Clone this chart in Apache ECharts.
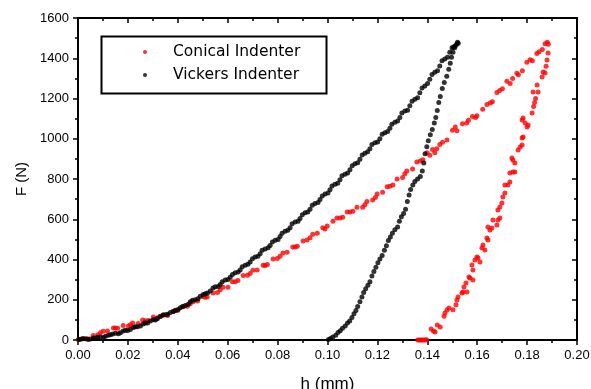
<!DOCTYPE html>
<html>
<head>
<meta charset="utf-8">
<script src="https://cdn.jsdelivr.net/npm/echarts@6/dist/echarts.min.js"></script>
<style>
  html, body { margin: 0; padding: 0; background: #fff; }
  #chart { width: 591px; height: 389px; }
</style>
</head>
<body>
<div id="chart"></div>
<script>
// Indentation load-displacement records: [h (mm), F (N)]
const seriesNames = ['Conical Indenter', 'Vickers Indenter'];
const xTicks = [0, 0.20, 0.02];   // min, max, step
const yTicks = [0, 1600, 200];

const conicalLoading = [
  [0.0002,3],[0.0021,8],[0.0038,6],[0.0061,22],[0.0079,26],[0.0101,44],[0.0118,45],[0.0142,60],
  [0.0159,58],[0.0181,72],[0.0202,70],[0.0219,84],[0.0241,82],[0.0259,99],[0.0281,97],[0.0302,114],
  [0.0318,110],[0.0342,124],[0.0359,122],[0.0381,142],[0.0399,146],[0.0422,165],[0.0438,168],[0.0461,190],
  [0.0479,194],[0.0502,216],[0.0518,214],[0.0541,234],[0.0559,236],[0.0581,262],[0.0601,262],[0.0619,290],
  [0.0641,296],[0.0662,320],[0.0679,322],[0.0701,346],[0.0718,348],[0.0742,372],[0.0759,375],[0.0782,402],
  [0.0799,405],[0.0821,432],[0.0838,436],[0.0861,462],[0.0879,466],[0.0902,492],[0.0918,497],[0.0941,525],
  [0.0959,530],[0.0981,558],[0.0999,566],[0.1022,590],[0.1038,606],[0.1061,610],[0.1079,636],[0.1102,640],
  [0.1118,660],[0.1141,660],[0.1158,688],[0.1181,696],[0.1199,726],[0.1221,734],[0.1239,762],[0.1262,770],
  [0.1279,800],[0.1301,808],[0.1318,840],[0.1341,850],[0.1358,884],[0.1382,896],[0.1399,930],[0.1421,946],
  [0.1438,950],[0.1461,982],[0.1479,994],[0.1501,1042],[0.1519,1040],[0.1541,1074],[0.1558,1078],[0.1581,1110],
  [0.1599,1114],[0.1622,1146],[0.1639,1170],[0.1661,1184],[0.1679,1230],[0.1701,1248],[0.1719,1286],[0.1742,1300],
  [0.1759,1326],[0.1781,1338],[0.1799,1380],[0.1821,1388],[0.1839,1424],[0.1861,1444],[0.1872,1472],[0.1881,1480],
  [0.1512,1058],[0.1565,1092],[0.1593,1106],[0.1652,1178],[0.1690,1240],[0.1732,1274],[0.1765,1318],[0.1812,1392],
  [0.1848,1432],[0.1885,1470],[0.1410,918],[0.1450,972],[0.1430,930],[0.1372,890],[0.1310,826],[0.1250,764],
  [0.1192,708],[0.1150,672],[0.1090,636],[0.1050,606],[0.0990,552],[0.0930,508],[0.0870,462],[0.0810,416],
  [0.0750,370],[0.0690,330],[0.0630,290],[0.0570,250],[0.0510,212],[0.0450,180],[0.0390,148],[0.0330,118],
  [0.0270,96],[0.0210,76],[0.0150,60],[0.0090,36]
];

const conicalUnloading = [
  [0.1362,0],[0.1368,0],[0.1374,0],[0.1380,0],[0.1386,0],[0.1392,0],[0.1397,1],
  [0.1415,55],[0.1425,45],[0.1431,40],[0.1440,75],[0.1452,65],[0.1467,118],[0.1471,134],[0.1479,149],
  [0.1487,159],[0.1503,150],[0.1515,175],[0.1519,199],[0.1523,214],[0.1539,233],[0.1543,238],[0.1559,238],
  [0.1547,263],[0.1555,283],[0.1567,313],[0.1571,308],[0.1583,298],[0.1579,373],[0.1583,348],[0.1591,398],
  [0.1599,412],[0.1603,407],[0.1611,388],[0.1619,457],[0.1623,472],[0.1631,447],[0.1639,507],[0.1643,497],
  [0.1643,561],[0.1651,547],[0.1659,557],[0.1663,596],[0.1679,571],[0.1683,596],[0.1691,606],[0.1683,646],
  [0.1691,661],[0.1699,681],[0.1703,711],[0.1711,730],[0.1711,770],[0.1723,770],[0.1731,785],[0.1731,830],
  [0.1743,835],[0.1751,835],[0.1739,904],[0.1743,894],[0.1751,880],[0.1764,944],[0.1772,959],[0.1780,969],
  [0.1780,1004],[0.1784,1009],[0.1800,1058],[0.1792,1078],[0.1804,1068],[0.1780,1093],[0.1784,1103],[0.1820,1128],
  [0.1826,1160],[0.1830,1180],[0.1834,1200],[0.1824,1232],[0.1844,1232],[0.1840,1267],[0.1860,1307],[0.1864,1332],
  [0.1872,1327],[0.1876,1360],[0.1880,1391],[0.1884,1426]
];

const vickersLoading = [
  [0.0003,2],[0.0018,6],[0.0041,3],[0.0062,10],[0.0079,14],[0.0102,12],[0.0121,24],[0.0139,30],
  [0.0162,31],[0.0181,45],[0.0199,47],[0.0222,62],[0.0238,66],[0.0261,80],[0.0279,84],[0.0302,101],
  [0.0318,106],[0.0341,124],[0.0359,128],[0.0382,142],[0.0401,151],[0.0419,166],[0.0442,178],[0.0459,197],
  [0.0481,205],[0.0502,226],[0.0519,234],[0.0541,258],[0.0562,266],[0.0578,290],[0.0601,301],[0.0619,326],
  [0.0642,338],[0.0658,364],[0.0681,376],[0.0699,404],[0.0721,416],[0.0738,446],[0.0762,458],[0.0779,487],
  [0.0802,500],[0.0818,531],[0.0841,545],[0.0858,578],[0.0882,590],[0.0899,622],[0.0921,636],[0.0939,669],
  [0.0962,683],[0.0979,716],[0.1002,730],[0.1018,765],[0.1041,779],[0.1058,816],[0.1081,830],[0.1099,866],
  [0.1121,881],[0.1139,919],[0.1161,935],[0.1178,971],[0.1201,984],[0.1219,1022],[0.1241,1036],[0.1258,1072],
  [0.1281,1088],[0.1298,1128],[0.1321,1142],[0.1339,1186],[0.1361,1204],[0.1379,1252],[0.1401,1274],[0.1419,1319],
  [0.1441,1338],[0.1459,1388],[0.1481,1405],[0.1499,1452],[0.1512,1462],[0.1521,1480],[0.1518,1470],[0.1524,1474],
  [0.0010,4],[0.0030,6],[0.0050,5],[0.0070,9],[0.0090,15],[0.0110,19],[0.0130,26],[0.0150,34],
  [0.0170,36],[0.0190,48],[0.0210,52],[0.0230,66],[0.0250,70],[0.0270,84],[0.0290,95],[0.0310,100],
  [0.0330,117],[0.0350,126],[0.0370,137],[0.0390,146],[0.0410,160],[0.0430,172],[0.0450,190],[0.0470,200],
  [0.0490,218],[0.0510,230],[0.0530,244],[0.0550,264],[0.0570,276],[0.0590,298],[0.0610,312],[0.0630,334],
  [0.0650,348],[0.0670,372],[0.0690,388],[0.0710,412],[0.0730,428],[0.0750,452],[0.0770,470],[0.0790,496],
  [0.0810,514],[0.0830,540],[0.0850,558],[0.0870,586],[0.0890,604],[0.0910,632],[0.0930,650],[0.0950,678],
  [0.0970,698],[0.0990,726],[0.1010,746],[0.1030,774],[0.1050,796],[0.1070,824],[0.1090,846],[0.1110,876],
  [0.1130,898],[0.1150,928],[0.1170,950],[0.1190,980],[0.1210,1000],[0.1230,1030],[0.1250,1052],[0.1270,1082],
  [0.1290,1106],[0.1310,1138],[0.1330,1164],[0.1350,1196],[0.1370,1228],[0.1390,1262],[0.1410,1296],[0.1430,1330],
  [0.1450,1362],[0.1470,1396],[0.1490,1430],[0.1505,1456]
];

const vickersUnloading = [
  [0.1004,2],[0.1012,8],[0.1021,15],[0.1033,24],[0.1042,37],[0.1051,46],[0.1060,58],[0.1071,70],
  [0.1080,84],[0.1089,95],[0.1098,112],[0.1106,130],[0.1114,146],[0.1121,166],[0.1130,190],[0.1138,214],
  [0.1145,236],[0.1153,255],[0.1162,272],[0.1170,290],[0.1178,318],[0.1186,340],[0.1194,362],[0.1202,384],
  [0.1210,402],[0.1219,420],[0.1228,446],[0.1236,468],[0.1244,494],[0.1252,512],[0.1260,530],[0.1270,548],
  [0.1281,562],[0.1288,590],[0.1296,612],[0.1305,628],[0.1313,650],[0.1320,688],[0.1327,720],[0.1333,748],
  [0.1342,770],[0.1350,788],[0.1361,800],[0.1372,812],[0.1380,840],[0.1386,880],[0.1391,925],[0.1398,960],
  [0.1404,990],[0.1412,1020],[0.1420,1046],[0.1428,1078],[0.1434,1106],[0.1440,1140],[0.1446,1180],[0.1452,1210],
  [0.1460,1250],[0.1468,1280],[0.1478,1310],[0.1486,1345],[0.1492,1375],[0.1497,1405],[0.1503,1430],[0.1510,1452]
];

const FONT = '"Liberation Sans", Arial, sans-serif';
const LEGEND_FONT = '"DejaVu Sans", "Liberation Sans", sans-serif';
const chart = echarts.init(document.getElementById('chart'), null, { renderer: 'canvas' });

function frameAxis(pos, isX) {
  return {
    type: 'value', position: pos,
    min: isX ? xTicks[0] : yTicks[0], max: isX ? xTicks[1] : yTicks[1],
    interval: isX ? xTicks[2] : yTicks[2],
    axisLine: { show: true, onZero: false, lineStyle: { color: '#000', width: 2 } },
    axisTick: { show: true, inside: true, length: 5, lineStyle: { color: '#000', width: 1.5 } },
    minorTick: { show: true, splitNumber: 2, length: 3, lineStyle: { color: '#000', width: 1.5 } },
    axisLabel: { show: false }, splitLine: { show: false }
  };
}

const option = {
  animation: false,
  backgroundColor: '#fff',
  grid: { left: 78, right: 14, top: 18, bottom: 49, containLabel: false, outerBoundsMode: 'none' },
  xAxis: [
    {
      type: 'value', position: 'bottom',
      min: xTicks[0], max: xTicks[1], interval: xTicks[2],
      name: 'h (mm)', nameLocation: 'middle', nameGap: 36,
      nameTextStyle: { fontFamily: FONT, fontSize: 17, color: '#000' },
      axisLine: { show: true, onZero: false, lineStyle: { color: '#000', width: 2 } },
      axisTick: { show: true, inside: false, length: 5, lineStyle: { color: '#000', width: 1.5 } },
      minorTick: { show: true, splitNumber: 2, length: 3, lineStyle: { color: '#000', width: 1.5 } },
      axisLabel: { fontFamily: FONT, fontSize: 13, color: '#000', margin: 9,
        formatter: v => v.toFixed(2) },
      splitLine: { show: false }
    },
    frameAxis('top', true)
  ],
  yAxis: [
    {
      type: 'value', position: 'left',
      min: yTicks[0], max: yTicks[1], interval: yTicks[2],
      name: 'F (N)', nameLocation: 'middle', nameGap: 45, nameRotate: 90,
      nameTextStyle: { fontFamily: FONT, fontSize: 15, color: '#000', padding: [0, 0, 0, 0] },
      axisLine: { show: true, onZero: false, lineStyle: { color: '#000', width: 2 } },
      axisTick: { show: true, inside: false, length: 5, lineStyle: { color: '#000', width: 1.5 } },
      minorTick: { show: true, splitNumber: 2, length: 3, lineStyle: { color: '#000', width: 1.5 } },
      axisLabel: { fontFamily: FONT, fontSize: 13, color: '#000', margin: 9,
        formatter: v => String(v) },
      splitLine: { show: false }
    },
    frameAxis('right', false)
  ],
  legend: {
    orient: 'vertical', left: 138, top: 39,
    data: seriesNames,
    itemWidth: 46, itemHeight: 4, itemGap: 7,
    textStyle: { fontFamily: LEGEND_FONT, fontSize: 15.5, color: '#000' },
    selectedMode: false
  },
  graphic: [{
    type: 'rect', left: 99, top: 34, z: 10,
    shape: { width: 225, height: 57 },
    style: { fill: 'none', stroke: '#000', lineWidth: 2 }
  }],
  series: [
    {
      name: seriesNames[0], type: 'scatter', symbol: 'circle', symbolSize: 5,
      itemStyle: { color: '#ff0000' }, emphasis: { disabled: true },
      data: conicalLoading.concat(conicalUnloading)
    },
    {
      name: seriesNames[1], type: 'scatter', symbol: 'circle', symbolSize: 5,
      itemStyle: { color: '#000000' }, emphasis: { disabled: true },
      data: vickersLoading.concat(vickersUnloading)
    }
  ]
};
chart.setOption(option);
</script>
</body>
</html>
